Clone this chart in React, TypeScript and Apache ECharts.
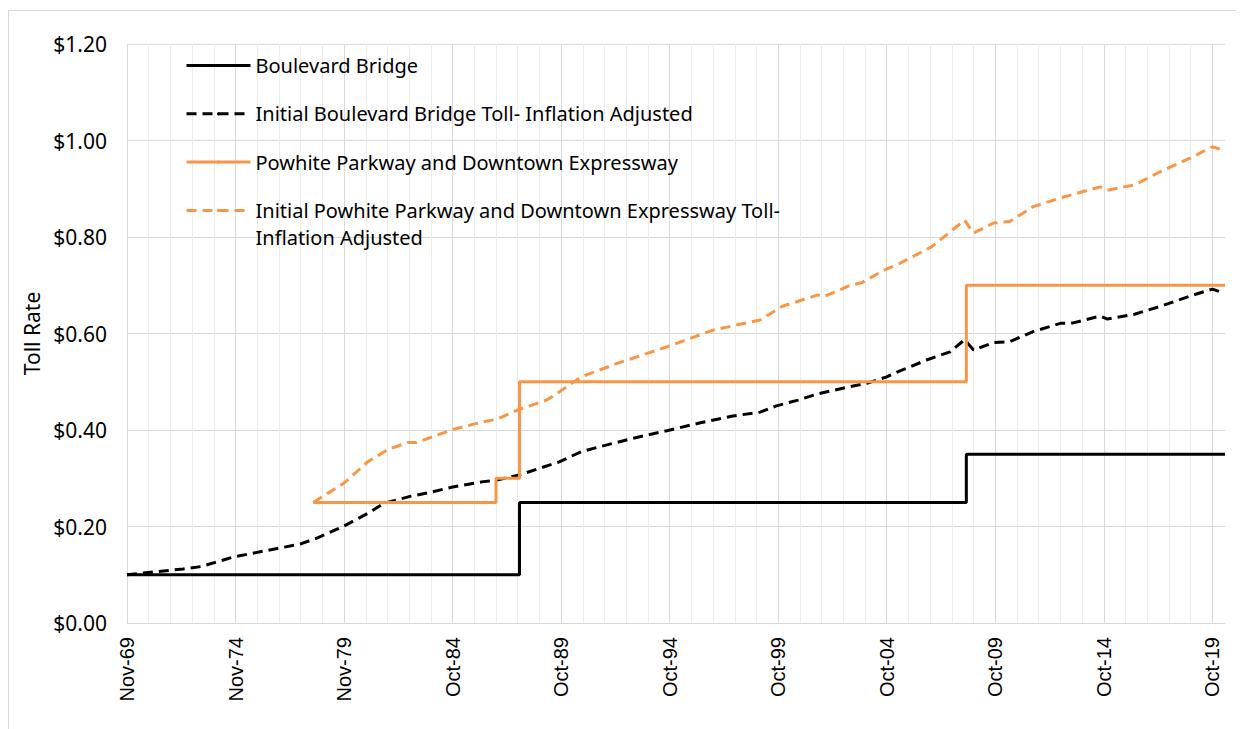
import React, { useEffect, useRef } from 'react';
import * as echarts from 'echarts';

const tickLabels = ['Nov-69', 'Nov-74', 'Nov-79', 'Oct-84', 'Oct-89', 'Oct-94', 'Oct-99', 'Oct-04', 'Oct-09', 'Oct-14', 'Oct-19'];

const seriesNames = [
  'Boulevard Bridge',
  'Initial Boulevard Bridge Toll- Inflation Adjusted',
  'Powhite Parkway and Downtown Expressway',
  'Initial Powhite Parkway and Downtown Expressway Toll- Inflation Adjusted',
];

const boulevardDates = ['1969-11', '1987-12', '2008-07', '2020-06'];
const boulevardValues = [0.10, 0.25, 0.35, 0.35];

const powhiteDates = ['1978-06', '1986-11', '1987-12', '2008-07', '2020-06'];
const powhiteValues = [0.25, 0.30, 0.50, 0.70, 0.70];

const boulevardAdjDates = [
  '1969-11', '1972-06', '1973-04', '1974-10', '1976-04', '1977-11', '1978-08', '1979-11',
  '1980-12', '1981-09', '1982-11', '1983-12', '1984-11', '1986-04', '1986-11', '1987-12',
  '1989-10', '1990-10', '1991-09', '1993-03', '1994-10', '1996-04', '1997-10', '1999-01',
  '1999-10', '2000-10', '2001-09', '2003-03', '2003-12', '2004-11', '2005-06', '2006-09',
  '2007-10', '2008-06', '2008-11', '2009-10', '2010-07', '2011-08', '2012-11', '2013-06',
  '2014-09', '2015-01', '2016-04', '2017-06', '2018-11', '2019-11', '2020-05',
];
const boulevardAdjValues = [
  0.100, 0.112, 0.117, 0.137, 0.150, 0.164, 0.176, 0.201,
  0.227, 0.248, 0.262, 0.272, 0.282, 0.293, 0.296, 0.307,
  0.334, 0.355, 0.366, 0.383, 0.399, 0.415, 0.429, 0.437,
  0.450, 0.462, 0.475, 0.490, 0.497, 0.510, 0.522, 0.545,
  0.562, 0.587, 0.566, 0.581, 0.583, 0.604, 0.621, 0.622,
  0.636, 0.630, 0.640, 0.656, 0.678, 0.692, 0.684,
];

const powhiteAdjDates = [
  '1978-06', '1979-11', '1980-12', '1981-11', '1982-10', '1983-03', '1983-12', '1984-11',
  '1986-04', '1986-11', '1987-12', '1989-03', '1989-10', '1990-10', '1992-06', '1994-10',
  '1996-11', '1997-10', '1999-01', '2000-01', '2001-09', '2001-12', '2003-03', '2003-09',
  '2004-09', '2005-06', '2006-12', '2008-06', '2008-11', '2009-10', '2010-07', '2011-08',
  '2012-11', '2014-09', '2015-01', '2016-04', '2017-06', '2018-11', '2019-11', '2020-05',
];
const powhiteAdjValues = [
  0.250, 0.290, 0.334, 0.359, 0.374, 0.374, 0.386, 0.401,
  0.417, 0.422, 0.443, 0.462, 0.479, 0.510, 0.538, 0.573,
  0.607, 0.616, 0.628, 0.656, 0.680, 0.676, 0.700, 0.705,
  0.730, 0.745, 0.780, 0.835, 0.808, 0.829, 0.832, 0.863,
  0.881, 0.904, 0.897, 0.908, 0.935, 0.964, 0.987, 0.980,
];

const axisEnd = '2020-06';

const BLACK = '#000000';
const ORANGE = '#F79646';

function monthIndex(d: string): number {
  const [y, m] = d.split('-').map(Number);
  return (y - 1969) * 12 + (m - 11);
}

function pairs(dates: string[], values: number[]) {
  return dates.map((d, i) => [monthIndex(d), values[i]]);
}

export default function App() {
  const ref = useRef<HTMLDivElement>(null);

  useEffect(() => {
    if (!ref.current) return;
    const chart = echarts.init(ref.current, null, { renderer: 'svg' });
    const xMax = monthIndex(axisEnd);
    chart.setOption({
      animation: false,
      backgroundColor: '#ffffff',
      grid: { left: 118, top: 33, width: 1098, height: 579, containLabel: false },
      legend: {
        orient: 'vertical',
        left: 176,
        top: 14,
        padding: 0,
        itemGap: -32.7,
        itemWidth: 64,
        itemHeight: 4,
        selectedMode: false,
        lineStyle: { width: 3 },
        textStyle: { fontFamily: 'Noto Sans', fontSize: 20, color: '#000', lineHeight: 27 },
        data: seriesNames,
        formatter: (name: string) =>
          name === seriesNames[3]
            ? '\nInitial Powhite Parkway and Downtown Expressway Toll-\nInflation Adjusted'
            : '\n' + name + '\n',
      },
      xAxis: [
        {
          // yearly (minor) gridlines
          type: 'value',
          position: 'bottom',
          min: 0,
          max: xMax,
          interval: 12,
          axisLine: { show: false },
          axisTick: { show: false },
          axisLabel: { show: false },
          splitLine: {
            show: true,
            showMaxLine: false,
            lineStyle: { color: '#ececec', width: 1 },
          },
        },
        {
          // five-year (major) gridlines and labels
          type: 'value',
          position: 'bottom',
          offset: 0,
          z: 1,
          min: 0,
          max: xMax,
          interval: 60,
          axisLine: { show: true, lineStyle: { color: '#d9d9d9', width: 1 } },
          axisTick: { show: false },
          splitLine: {
            show: true,
            showMaxLine: false,
            lineStyle: { color: '#d9d9d9', width: 1 },
          },
          axisLabel: {
            rotate: 90,
            margin: 14,
            showMaxLabel: false,
            fontFamily: 'Liberation Sans',
            fontSize: 20,
            color: '#000',
            formatter: (v: number) => (v % 60 === 0 && tickLabels[v / 60] ? tickLabels[v / 60] : ''),
          },
        },
      ],
      yAxis: {
        type: 'value',
        min: 0,
        max: 1.2,
        interval: 0.2,
        name: 'Toll Rate',
        nameLocation: 'middle',
        nameGap: 80,
        nameTextStyle: { fontFamily: 'Noto Sans', fontSize: 21, color: '#000' },
        axisLine: { show: false },
        axisTick: { show: false },
        splitLine: { show: true, lineStyle: { color: '#d9d9d9', width: 1 } },
        axisLabel: {
          margin: 20,
          fontFamily: 'Noto Sans',
          fontSize: 21,
          color: '#000',
          formatter: (v: number) => '$' + v.toFixed(2),
        },
      },
      series: [
        {
          name: seriesNames[0],
          type: 'line',
          xAxisIndex: 1,
          step: 'end',
          symbol: 'none',
          data: pairs(boulevardDates, boulevardValues),
          lineStyle: { color: BLACK, width: 3 },
          itemStyle: { color: BLACK },
        },
        {
          name: seriesNames[1],
          type: 'line',
          xAxisIndex: 1,
          symbol: 'none',
          data: pairs(boulevardAdjDates, boulevardAdjValues),
          lineStyle: { color: BLACK, width: 3, type: [10, 6] },
          itemStyle: { color: BLACK },
        },
        {
          name: seriesNames[2],
          type: 'line',
          xAxisIndex: 1,
          step: 'end',
          symbol: 'none',
          data: pairs(powhiteDates, powhiteValues),
          lineStyle: { color: ORANGE, width: 3 },
          itemStyle: { color: ORANGE },
        },
        {
          name: seriesNames[3],
          type: 'line',
          xAxisIndex: 1,
          symbol: 'none',
          data: pairs(powhiteAdjDates, powhiteAdjValues),
          lineStyle: { color: ORANGE, width: 3, type: [10, 6] },
          itemStyle: { color: ORANGE },
        },
      ],
    });
    return () => chart.dispose();
  }, []);

  return (
    <div
      style={{
        width: 1228,
        height: 728,
        marginTop: 2,
        border: '1px solid #d9d9d9',
        borderBottom: 'none',
        background: '#fff',
      }}
    >
      <div ref={ref} style={{ width: 1228, height: 718 }} />
    </div>
  );
}
